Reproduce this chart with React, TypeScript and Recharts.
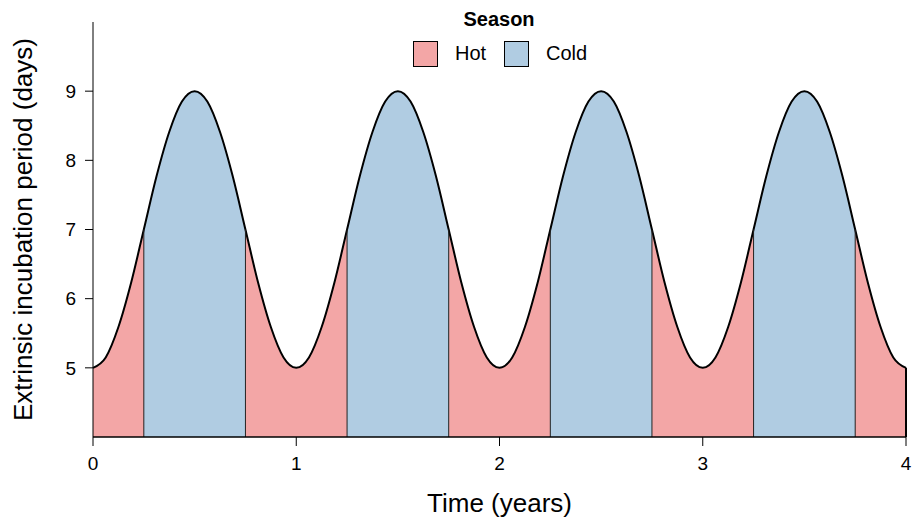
import { AreaChart, Area, XAxis, YAxis, ReferenceLine } from "recharts";

// time in years, sampled every 1/16 year
const years = [
  0, 0.0625, 0.125, 0.1875, 0.25, 0.3125, 0.375, 0.4375, 0.5, 0.5625, 0.625, 0.6875, 0.75, 0.8125, 0.875, 0.9375,
  1, 1.0625, 1.125, 1.1875, 1.25, 1.3125, 1.375, 1.4375, 1.5, 1.5625, 1.625, 1.6875, 1.75, 1.8125, 1.875, 1.9375,
  2, 2.0625, 2.125, 2.1875, 2.25, 2.3125, 2.375, 2.4375, 2.5, 2.5625, 2.625, 2.6875, 2.75, 2.8125, 2.875, 2.9375,
  3, 3.0625, 3.125, 3.1875, 3.25, 3.3125, 3.375, 3.4375, 3.5, 3.5625, 3.625, 3.6875, 3.75, 3.8125, 3.875, 3.9375,
  4,
];

// extrinsic incubation period (days)
const eip = [
  5.0, 5.15, 5.59, 6.23, 7.0, 7.77, 8.41, 8.85, 9.0, 8.85, 8.41, 7.77, 7.0, 6.23, 5.59, 5.15,
  5.0, 5.15, 5.59, 6.23, 7.0, 7.77, 8.41, 8.85, 9.0, 8.85, 8.41, 7.77, 7.0, 6.23, 5.59, 5.15,
  5.0, 5.15, 5.59, 6.23, 7.0, 7.77, 8.41, 8.85, 9.0, 8.85, 8.41, 7.77, 7.0, 6.23, 5.59, 5.15,
  5.0, 5.15, 5.59, 6.23, 7.0, 7.77, 8.41, 8.85, 9.0, 8.85, 8.41, 7.77, 7.0, 6.23, 5.59, 5.15,
  5.0,
];

// season changes (hot -> cold -> hot ...)
const seasonBreaks = [0.25, 0.75, 1.25, 1.75, 2.25, 2.75, 3.25, 3.75];
const breakValues = [7, 7, 7, 7, 7, 7, 7, 7];

const xTicks = [0, 1, 2, 3, 4];
const yTicks = [5, 6, 7, 8, 9];

const HOT = "#f3a6a6";
const COLD = "#b0cce2";
const FONT = "'Liberation Sans', Arial, Helvetica, sans-serif";

const data = years.map((t, i) => ({ t, eip: eip[i] }));

export default function App() {
  const xMax = xTicks[xTicks.length - 1];
  // hard colour stops across the area, hot first
  const edges = [0, ...seasonBreaks, xMax];
  const stops: JSX.Element[] = [];
  for (let i = 0; i < edges.length - 1; i++) {
    const c = i % 2 === 0 ? HOT : COLD;
    stops.push(<stop key={`a${i}`} offset={edges[i] / xMax} stopColor={c} />);
    stops.push(<stop key={`b${i}`} offset={edges[i + 1] / xMax} stopColor={c} />);
  }

  return (
    <div style={{ position: "absolute", left: 0, top: 0, width: 912, height: 520, fontFamily: FONT }}>
      <AreaChart width={912} height={520} data={data} margin={{ top: 22, right: 6, bottom: 0, left: 0 }}>
        <defs>
          <linearGradient id="season" x1="0" y1="0" x2="1" y2="0">
            {stops}
          </linearGradient>
        </defs>
        <XAxis
          dataKey="t"
          type="number"
          domain={[0, 4]}
          ticks={xTicks}
          height={83}
          tickSize={9}
          tickMargin={11}
          axisLine={{ stroke: "#000", strokeWidth: 1.5 }}
          tickLine={{ stroke: "#000" }}
          tick={{ fill: "#000", fontSize: 19, fontFamily: FONT }}
          label={{ value: "Time (years)", position: "insideBottom", offset: 8, fill: "#000", fontSize: 26, fontFamily: FONT }}
        />
        <YAxis
          type="number"
          domain={[4, 10]}
          ticks={yTicks}
          width={93}
          tickSize={8}
          tickMargin={9}
          axisLine={{ stroke: "#000" }}
          tickLine={{ stroke: "#000" }}
          tick={{ fill: "#000", fontSize: 19, fontFamily: FONT }}
          label={{
            value: "Extrinsic incubation period (days)",
            angle: -90,
            position: "insideLeft",
            offset: 23,
            style: { textAnchor: "middle" },
            fill: "#000",
            fontSize: 26,
            fontFamily: FONT,
          }}
        />
        <Area
          type="monotone"
          dataKey="eip"
          baseValue={4}
          fill="url(#season)"
          fillOpacity={1}
          stroke="#000"
          strokeWidth={2}
          isAnimationActive={false}
          dot={false}
          activeDot={false}
        />
        {seasonBreaks.map((x, i) => (
          <ReferenceLine
            key={x}
            segment={[{ x, y: 4 }, { x, y: breakValues[i] }]}
            stroke="#222"
            strokeWidth={1}
          />
        ))}
        <ReferenceLine
          segment={[{ x: xMax, y: 4 }, { x: xMax, y: eip[eip.length - 1] }]}
          stroke="#000"
          strokeWidth={2}
        />
      </AreaChart>
      <div
        style={{
          position: "absolute",
          left: 0,
          top: 8,
          width: 998,
          textAlign: "center",
          fontSize: 20,
          fontWeight: "bold",
          color: "#000",
        }}
      >
        Season
      </div>
      {[
        { name: "Hot", color: HOT, x: 413, tx: 455 },
        { name: "Cold", color: COLD, x: 504, tx: 546 },
      ].map((s) => (
        <div key={s.name}>
          <div
            style={{
              position: "absolute",
              left: s.x,
              top: 41,
              width: 23,
              height: 24,
              background: s.color,
              border: "1px solid #000",
            }}
          />
          <div style={{ position: "absolute", left: s.tx, top: 42, fontSize: 20, color: "#000" }}>{s.name}</div>
        </div>
      ))}
    </div>
  );
}
